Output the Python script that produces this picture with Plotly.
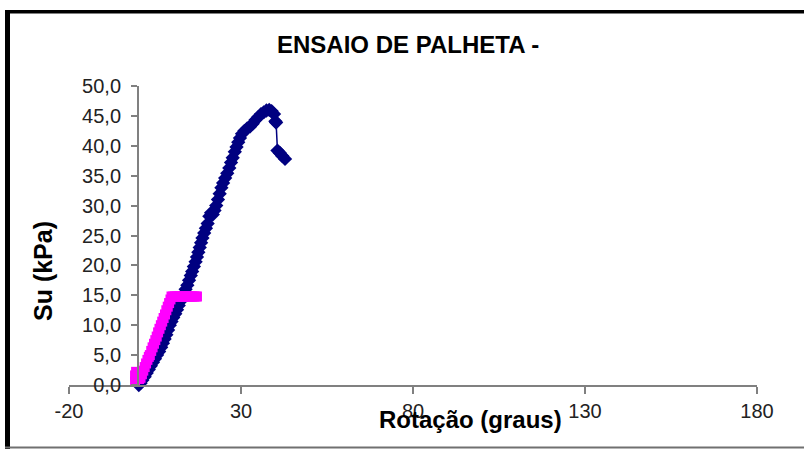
import plotly.graph_objects as go

# Data
blue_x = [0.3, 0.8, 1.3, 2.0, 2.6, 3.2, 3.8, 4.4, 5.0, 5.6, 6.2, 6.8, 7.3, 7.8, 8.3, 8.8, 9.3, 9.8,
          10.3, 10.9, 11.4, 11.9, 12.4, 12.9, 13.4, 13.9, 14.4, 14.9, 15.4, 15.8, 16.3, 16.8, 17.2,
          17.6, 18.0, 18.4, 18.8, 19.3, 19.8, 20.3, 20.8, 21.3, 21.8, 22.3, 22.8, 23.3, 23.8, 24.3,
          24.8, 25.4, 26.0, 26.6, 27.1, 27.6, 28.2, 28.7, 29.2, 29.7, 30.3, 31.0, 31.8, 32.6, 33.4,
          34.2, 35.0, 35.8, 36.6, 37.4, 38.2, 38.9, 39.6, 40.0, 40.2, 40.6, 41.3, 42.0, 42.8]
blue_y = [0.0, 0.3, 0.8, 1.4, 2.0, 2.6, 3.2, 3.8, 4.4, 5.0, 5.6, 6.3, 7.0, 7.7, 8.4, 9.2, 10.0, 10.6,
          11.3, 11.9, 12.6, 13.3, 14.0, 14.6, 15.2, 16.0, 16.7, 17.5, 18.3, 19.0, 19.8, 20.6, 21.4,
          22.2, 23.0, 23.8, 24.6, 25.4, 26.2, 27.0, 28.2, 28.8, 28.5, 29.2, 30.0, 31.0, 32.0, 33.0,
          33.8, 34.6, 35.4, 36.3, 37.2, 38.0, 39.0, 39.8, 40.6, 41.3, 42.0, 42.5, 42.9, 43.2, 43.7,
          44.3, 44.8, 45.3, 45.6, 45.9, 46.0, 45.8, 45.3, 44.1, 43.9, 39.2, 38.8, 38.3, 37.8]

mag_x = [-0.8, -0.8, -0.5, 0.0, 0.4, 0.8, 1.2, 1.6, 2.0, 2.4, 2.8, 3.2, 3.5, 3.9, 4.3, 4.7, 5.1,
         5.5, 5.9, 6.3, 6.7, 7.1, 7.5, 7.9, 8.3, 8.7, 9.1, 9.5, 9.8, 10.3, 10.8, 11.3, 11.8, 12.3,
         12.8, 13.3, 13.8, 14.3, 14.8, 15.3, 15.8, 16.3, 16.8, 17.2]
mag_y = [0.6, 1.6, 2.2, 1.5, 1.0, 1.2, 1.8, 2.4, 3.0, 3.6, 4.2, 4.7, 5.0, 5.7, 6.3, 6.9, 7.5,
         8.1, 8.8, 9.4, 10.0, 10.6, 11.2, 11.8, 12.5, 13.1, 13.7, 14.3, 14.8, 14.8, 14.8, 14.8, 14.8, 14.8,
         14.8, 14.8, 14.8, 14.8, 14.8, 14.8, 14.8, 14.8, 14.8, 14.8]

x_ticks = [-20, 30, 80, 130, 180]
x_tick_labels = ["-20", "30", "80", "130", "180"]
y_ticks = [0, 5, 10, 15, 20, 25, 30, 35, 40, 45, 50]

title_text = "ENSAIO DE PALHETA -"
x_title = "Rotação (graus)"
y_title = "Su (kPa)"

FONT = "Liberation Sans, Arial, sans-serif"

W, H = 804, 449
L, R, T, B = 69, 757, 86, 385  # plot area pixel edges


def px(xp):
    return (xp - L) / (R - L)


def py(yp):
    return (B - yp) / (B - T)


fig = go.Figure()
fig.add_trace(go.Scatter(
    x=blue_x, y=blue_y, mode="lines+markers",
    line=dict(color="#000080", width=1.5),
    marker=dict(symbol="diamond", size=11, color="#000080"),
    cliponaxis=False, showlegend=False))
fig.add_trace(go.Scatter(
    x=mag_x, y=mag_y, mode="lines+markers",
    line=dict(color="#FF00FF", width=2),
    marker=dict(symbol="square", size=10, color="#FF00FF"),
    cliponaxis=False, showlegend=False))

fig.update_layout(
    width=W, height=H,
    margin=dict(l=L, r=W - R, t=T, b=H - B, pad=0),
    paper_bgcolor="white", plot_bgcolor="white",
    separators=",.",
    font=dict(family=FONT, color="#222222", size=20),
    xaxis=dict(range=[-20, 180], tickvals=x_ticks, ticktext=x_tick_labels,
               showgrid=False, zeroline=False,
               showline=True, linecolor="#808080", linewidth=1.5,
               ticks="outside", ticklen=7, tickcolor="#808080", tickwidth=1.5,
               tickfont=dict(size=20, color="#222222"), ticklabelstandoff=0),
    yaxis=dict(range=[0, 50], tickvals=y_ticks, tickformat=".1f", showgrid=False, zeroline=False,
               anchor="free", position=0.1,
               showline=True, linecolor="#808080", linewidth=1.5,
               ticks="outside", ticklen=6, tickcolor="#808080", tickwidth=1.5,
               tickfont=dict(size=20, color="#222222"), ticklabelstandoff=6),
    shapes=[
        dict(type="rect", xref="paper", yref="paper", x0=px(5), x1=px(10), y0=py(449), y1=py(10),
             fillcolor="black", line=dict(width=0), layer="above"),
        dict(type="rect", xref="paper", yref="paper", x0=px(5), x1=px(810), y0=py(13.5), y1=py(10),
             fillcolor="black", line=dict(width=0), layer="above"),
        dict(type="line", xref="paper", yref="paper", x0=px(5), x1=px(810), y0=py(447.5), y1=py(447.5),
             line=dict(color="#707070", width=2), layer="above"),
    ],
    annotations=[
        dict(text="<b>" + title_text + "</b>", xref="paper", yref="paper", x=px(408), y=py(44),
             xanchor="center", yanchor="middle", showarrow=False,
             font=dict(family=FONT, size=24, color="black")),
        dict(text="<b>" + x_title + "</b>", xref="paper", yref="paper", x=px(470), y=py(419),
             xanchor="center", yanchor="middle", showarrow=False,
             font=dict(family=FONT, size=24, color="black")),
        dict(text="<b>" + y_title + "</b>", xref="paper", yref="paper", x=px(43), y=py(271),
             xanchor="center", yanchor="middle", showarrow=False, textangle=-90,
             font=dict(family=FONT, size=25, color="black")),
    ],
)

fig.write_html("out.html")
